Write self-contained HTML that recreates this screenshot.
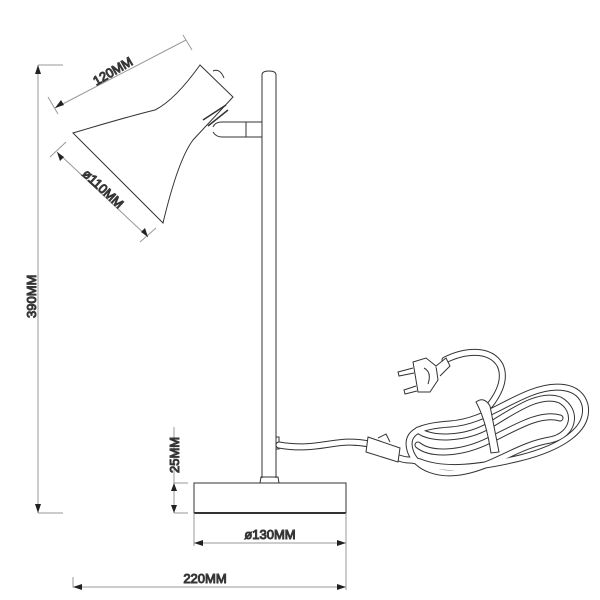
<!DOCTYPE html>
<html><head><style>
body{margin:0;background:#fff}
svg{display:block}
text{font-family:"Liberation Sans",sans-serif;fill:#666;font-size:13px}
</style></head><body>
<svg width="600" height="600" viewBox="0 0 600 600" fill="none" stroke="#333" stroke-width="1">
<!-- pole -->
<path d="M262,75 Q262,71 269,71 Q276,71 276,75 L276,478 M262,75 L262,478"/>
<path d="M260,483 L261,477 L278,477 L279,483"/>
<!-- base -->
<rect x="194" y="483" width="152" height="30"/>
<line x1="194" y1="513" x2="346" y2="513" stroke-width="2"/>
<!-- arm -->
<path d="M262,122 L222,122 Q215,122 213,127 M262,137 L222,137 Q216,137 213,132 M246,122 L246,137"/>
<!-- shade -->
<path d="M200,65 L233,97 L193,140 Q178,160 163,223 L73,133 Q130,116 155,110 Q175,100 200,65 Z"/>
<path d="M203,120 L226,105 M208,126 L228,110" stroke-width="1.5"/>
<path d="M213,71 Q220,68 224,78"/>
<!-- switch on pole -->
<rect x="276" y="437" width="3" height="12"/>
<!-- cord: double line via dark+white strokes -->
<g id="cord">
<path id="c1" d="M279,445 C320,452 335,437 369,444"/>
<path id="c2" d="M399,458 C410,462 408,458 420,462 C440,470 470,470 520,458 C560,448 590,430 585,405 C580,385 555,383 530,393 C500,405 480,422 450,424 C420,426 405,432 410,450 C415,468 440,478 470,470 C500,462 520,445 550,440 C575,435 578,410 560,400 C540,392 515,410 490,425 C465,440 430,440 418,430"/>
<path id="c3" d="M445,360 C465,350 490,348 500,365 C506,378 500,392 490,405"/>
<path id="c4" d="M418,445 C430,455 460,455 490,440 C515,428 540,412 560,418"/>
</g>
<g stroke="#333" stroke-width="7" stroke-linecap="round">
<use href="#c1"/><use href="#c2"/><use href="#c3"/><use href="#c4"/>
</g>
<g stroke="#fff" stroke-width="5" stroke-linecap="round">
<use href="#c1"/><use href="#c2"/><use href="#c3"/><use href="#c4"/>
</g>
<!-- switch -->
<path d="M368,437 L400,448 L398,462 L366,452 Z" fill="#fff"/>
<path d="M378,438 L386,434 L390,442"/>
<!-- strap -->
<path d="M476,402 Q484,396 490,406 L499,452 L491,453 Q486,420 476,402 Z" fill="#fff"/>
<!-- plug -->
<path d="M413,362 L426,358 L436,366 L438,380 L430,392 L418,392 Z" fill="#fff"/>
<path d="M436,366 L446,358 L450,366 L440,376" fill="#fff"/>
<path d="M424,368 Q432,372 428,384"/>
<path d="M413,368 L398,372 L399,376 L414,373 M416,386 L404,390 L405,394 L417,391" fill="#fff"/>
<!-- dimensions -->
<g stroke="#999">
<path d="M38,65 L63,65 M38,65 L38,513 M38,513 L63,513"/>
<path d="M174,427 L174,513 M174,483 L188,483 M174,513 L188,513"/>
<path d="M194,513 L194,546 M346,513 L346,590 M194,543 L346,543"/>
<path d="M73,577 L73,587 L346,587"/>
<path d="M55,108 L186,40 M48,97 L58,114 M183,35 L192,50"/>
<path d="M57,152 L148,237 M50,157 L66,142 M140,242 L156,228"/>
</g>
<g fill="#222" stroke="none">
<path d="M38,65 l-3,9 l6,0z M38,513 l-3,-9 l6,0z"/>
<path d="M174,483 l-3,8 l6,0z M174,513 l-3,-8 l6,0z"/>
<path d="M194,543 l9,-3 l0,6z M346,543 l-9,-3 l0,6z"/>
<path d="M73,587 l9,-3 l0,6z M346,587 l-9,-3 l0,6z"/>
<path d="M55,108 l6,-8 l3,5z M57,152 l3,9 l4,-4z M148,237 l-3,-9 l-4,4z"/>
</g>
<text transform="translate(36,318) rotate(-90)">390MM</text>
<text transform="translate(179,473) rotate(-90)">25MM</text>
<text x="270" y="539" text-anchor="middle">ø130MM</text>
<text x="205" y="583" text-anchor="middle">220MM</text>
<text transform="translate(115,75) rotate(-30)" text-anchor="middle">120MM</text>
<text transform="translate(100,192) rotate(43)" text-anchor="middle">ø110MM</text>
</svg>
</body></html>
